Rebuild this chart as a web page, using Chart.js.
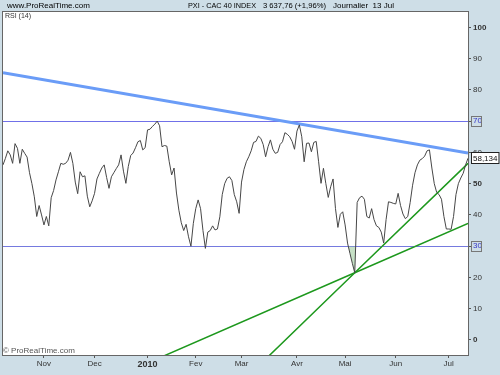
<!DOCTYPE html>
<html>
<head>
<meta charset="utf-8">
<script src="https://cdn.jsdelivr.net/npm/chart.js@4.4.0/dist/chart.umd.min.js"></script>
<style>
    html, body { margin: 0; padding: 0; background: #cedee7; }
    #wrap { width: 500px; height: 375px; }
</style>
</head>
<body>
<div id="wrap"><canvas id="rsiChart" width="500" height="375"></canvas></div>
<script>
// RSI (14) daily values, Oct 2009 -> 13 Jul 2010 (one per trading day)
const rsiValues = [
    56.0, 58.1, 60.5, 59.2, 56.5, 62.8, 61.3, 56.5, 61.0, 59.7,
    58.5, 53.5, 50.0, 45.8, 39.5, 43.0, 40.0, 36.8, 39.5, 36.5,
    45.5, 47.8, 51.2, 53.8, 56.5, 56.2, 56.5, 57.5, 60.0, 56.5,
    50.5, 46.8, 53.8, 52.2, 52.5, 46.0, 42.6, 44.5, 46.9, 51.5,
    53.3, 55.0, 56.0, 52.0, 48.5, 52.2, 53.5, 54.8, 56.0, 59.2,
    54.0, 50.1, 55.5, 59.0, 59.8, 61.5, 63.4, 63.8, 60.8, 61.5,
    67.2, 67.4, 68.3, 69.0, 70.0, 68.5, 61.8, 62.2, 62.0, 57.0,
    52.8, 55.0, 47.0, 41.5, 37.5, 35.0, 37.0, 33.0, 30.0, 37.3,
    42.0, 44.8, 42.0, 35.0, 29.3, 34.5, 35.0, 36.5, 35.2, 35.5,
    39.4, 46.5, 50.0, 51.7, 52.2, 51.0, 46.5, 44.2, 40.5, 50.5,
    54.5, 57.0, 58.6, 60.5, 63.2, 63.5, 65.2, 64.5, 62.5, 58.6,
    61.8, 64.0, 61.0, 59.7, 60.0, 62.5, 63.4, 66.3, 65.8, 65.0,
    63.5, 61.0, 66.8, 68.8, 65.0, 57.0, 62.9, 63.0, 60.2, 63.2,
    63.5, 57.0, 50.1, 54.9, 50.0, 45.6, 49.0, 51.5, 42.0, 36.0,
    40.2, 41.0, 36.8, 31.0, 27.7, 24.5, 21.5, 44.0, 45.5, 46.0,
    45.0, 39.5, 39.0, 42.0, 38.5, 36.5, 36.0, 34.5, 31.0, 38.5,
    44.2, 44.0, 43.7, 43.5, 46.9, 43.0, 40.3, 38.8, 39.5, 44.0,
    49.5, 53.5, 56.0, 57.5, 58.0, 58.8, 60.5, 60.8, 55.0, 50.0,
    47.2, 46.5, 45.0, 39.5, 35.5, 35.5, 35.4, 39.5, 46.5, 50.0,
    51.8, 53.3, 56.0, 58.134
];

// month ticks (bar index of first trading day)
const monthTicks = [17, 38, 60, 80, 99, 122, 142, 163, 185];
const monthLabels = ['Nov', 'Dec', '2010', 'Fev', 'Mar', 'Avr', 'Mai', 'Jun', 'Jul'];
const rsiTicks = [0, 10, 20, 30, 40, 50, 60, 70, 80, 90, 100];
const boldTicks = [0, 50, 100];
const levelTicks = [30, 70];

// trend lines drawn on the chart: [bar index, RSI]
const resistanceLine = [[0, 85.5], [193, 59.8]];
const supportShallow = [[62, -6.7], [146, 21.5], [193, 37.3]];
const supportSteep = [[105, -9.1], [146, 21.5], [193, 56.5]];

const FONT = "'Liberation Sans', Arial, sans-serif";

const toPoints = arr => arr.map(p => ({ x: p[0], y: p[1] }));

const framePlugin = {
    id: 'frame',
    beforeDraw: function(chart) {
        const { ctx, chartArea: a } = chart;
        ctx.save();
        ctx.fillStyle = '#cedee7';
        ctx.fillRect(0, 0, chart.width, chart.height);
        ctx.fillStyle = '#ffffff';
        ctx.fillRect(a.left, a.top, a.right - a.left, a.bottom - a.top);
        ctx.restore();
    },
    afterDraw: function(chart) {
        const { ctx, chartArea: a } = chart;
        const y = chart.scales.y;
        ctx.save();

        // plot frame
        ctx.strokeStyle = '#666';
        ctx.lineWidth = 1;
        ctx.strokeRect(a.left - 0.5, a.top - 0.5, a.right - a.left + 1, a.bottom - a.top + 1);

        // header
        ctx.fillStyle = '#000';
        ctx.textBaseline = 'middle';
        ctx.font = '8px ' + FONT;
        ctx.fillText('www.ProRealTime.com', 7, 6);
        ctx.fillText('PXI - CAC 40 INDEX', 188, 6, 68);
        ctx.fillText('3 637,76 (+1,96%)', 263, 6, 63);
        ctx.fillText('Journalier  13 Jul', 333, 6, 62);

        ctx.font = '7px ' + FONT;
        ctx.fillStyle = '#333';
        ctx.fillText('RSI (14)', a.left + 2, a.top + 4);

        ctx.font = '8px ' + FONT;
        ctx.fillStyle = '#555';
        ctx.fillText('\u00A9 ProRealTime.com', a.left, a.bottom - 4);

        // boxes around the 30 / 70 levels
        ctx.strokeStyle = '#777';
        levelTicks.forEach(v => {
            const py = Math.round(y.getPixelForValue(v));
            ctx.strokeRect(a.right + 3.5, py - 4.5, 10, 10);
        });

        // last value box
        const last = rsiValues[rsiValues.length - 1];
        const txt = last.toFixed(3).replace('.', ',');
        const py = Math.round(y.getPixelForValue(last));
        ctx.font = '8px ' + FONT;
        const w = ctx.measureText(txt).width + 3;
        ctx.fillStyle = '#fff';
        ctx.fillRect(a.right + 3.5, py - 5.5, w, 11);
        ctx.strokeStyle = '#222';
        ctx.strokeRect(a.right + 3.5, py - 5.5, w, 11);
        ctx.fillStyle = '#111';
        ctx.fillText(txt, a.right + 5, py + 0.5);

        ctx.restore();
    }
};

new Chart(document.getElementById('rsiChart'), {
    type: 'line',
    data: {
        datasets: [
            {
                label: 'RSI (14)',
                data: rsiValues.map((v, i) => ({ x: i, y: v })),
                borderColor: '#474747',
                borderWidth: 1,
                pointRadius: 0,
                tension: 0,
                fill: { target: { value: 30 }, above: 'rgba(0,0,0,0)', below: 'rgba(160,205,160,0.6)' }
            },
            {
                data: toPoints(resistanceLine),
                borderColor: '#6a9cf7',
                borderWidth: 3,
                pointRadius: 0,
                fill: false
            },
            {
                data: toPoints(supportShallow),
                borderColor: '#1d981d',
                borderWidth: 1.5,
                pointRadius: 0,
                fill: false
            },
            {
                data: toPoints(supportSteep),
                borderColor: '#1d981d',
                borderWidth: 1.5,
                pointRadius: 0,
                fill: false
            }
        ]
    },
    options: {
        responsive: false,
        animation: false,
        layout: {
            padding: { top: 12, left: 3, right: 0, bottom: 0 }
        },
        plugins: {
            legend: { display: false },
            tooltip: { enabled: false },
            title: { display: false }
        },
        scales: {
            x: {
                type: 'linear',
                min: 0,
                max: rsiValues.length - 1,
                afterBuildTicks: function(scale) {
                    scale.ticks = monthTicks.map(v => ({ value: v }));
                },
                afterFit: function(scale) {
                    scale.height = 20;
                },
                grid: {
                    drawOnChartArea: false,
                    tickLength: 3,
                    color: '#555'
                },
                border: { display: true, color: '#666' },
                ticks: {
                    autoSkip: false,
                    maxRotation: 0,
                    padding: 1,
                    color: '#333',
                    font: function(ctx) {
                        const bold = ctx.tick && ctx.tick.value === 60;
                        return { family: FONT, size: bold ? 9 : 8, weight: bold ? 'bold' : 'normal' };
                    },
                    callback: function(value, index) {
                        return monthLabels[index];
                    }
                }
            },
            y: {
                position: 'right',
                min: -4.8,
                max: 104.9,
                afterBuildTicks: function(scale) {
                    scale.ticks = rsiTicks.map(v => ({ value: v }));
                },
                afterFit: function(scale) {
                    scale.width = 32;
                },
                grid: {
                    color: function(ctx) {
                        return ctx.tick && levelTicks.includes(ctx.tick.value) ? '#7070e8' : 'rgba(0,0,0,0)';
                    },
                    tickColor: '#555',
                    tickLength: 3,
                    lineWidth: 1
                },
                border: { display: true, color: '#666' },
                ticks: {
                    padding: 2,
                    color: function(ctx) {
                        return ctx.tick && levelTicks.includes(ctx.tick.value) ? '#3535c8' : '#333';
                    },
                    font: function(ctx) {
                        const bold = ctx.tick && boldTicks.includes(ctx.tick.value);
                        return { family: FONT, size: 8, weight: bold ? 'bold' : 'normal' };
                    },
                    callback: function(value) {
                        return value;
                    }
                }
            }
        }
    },
    plugins: [framePlugin]
});
</script>
</body>
</html>
